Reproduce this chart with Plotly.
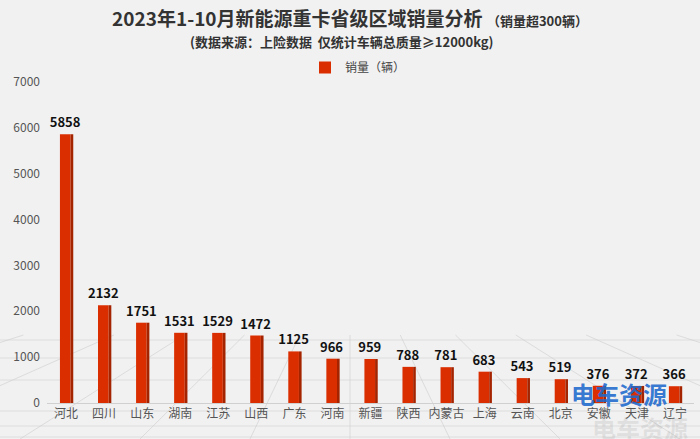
import plotly.graph_objects as go

provinces = ["河北", "四川", "山东", "湖南", "江苏", "山西", "广东", "河南", "新疆",
             "陕西", "内蒙古", "上海", "云南", "北京", "安徽", "天津", "辽宁"]
sales = [5858, 2132, 1751, 1531, 1529, 1472, 1125, 966, 959,
         788, 781, 683, 543, 519, 376, 372, 366]
y_ticks = [0, 1000, 2000, 3000, 4000, 5000, 6000, 7000]

FONT = "Noto Sans CJK SC"
L, R, T, B, W, H = 47, 6, 82, 36, 700, 439
PW, PH = W - L - R, H - T - B


def px(x):
    return (x - L) / PW


def py(y):
    return (H - B - y) / PH


fig = go.Figure()
# front face
fig.add_trace(go.Bar(
    x=provinces, y=sales, name="销量（辆）",
    width=0.28, offset=-0.16,
    marker=dict(color="#da2e00", line=dict(width=0)),
    text=[str(v) for v in sales], textposition="outside", constraintext="none",
    textfont=dict(family=FONT, size=13, color="#111111", weight="bold"),
    cliponaxis=False,
))
# side face (3D look)
fig.add_trace(go.Bar(
    x=provinces, y=sales, showlegend=False, hoverinfo="skip",
    width=0.07, offset=0.12,
    marker=dict(color="#a52400", line=dict(width=0)),
))

# decorative perspective floor grid
shapes = []
vx, vy = 350, 230
for bx in [-300, -120, 20, 140, 250, 350, 450, 560, 680, 820, 1000]:
    t = (439 - 335) / (439 - vy)
    x2 = bx + (vx - bx) * t
    shapes.append(dict(type="line", xref="paper", yref="paper",
                       x0=px(bx), y0=py(439), x1=px(x2), y1=py(335),
                       line=dict(color="rgba(200,200,200,0.5)", width=1), layer="below"))
for hy in [340, 358, 380, 411, 426, 437]:
    shapes.append(dict(type="line", xref="paper", yref="paper",
                       x0=px(0), y0=py(hy), x1=px(700), y1=py(hy),
                       line=dict(color="rgba(205,205,205,0.5)", width=1), layer="below"))

fig.update_layout(
    width=W, height=H,
    barmode="overlay",
    margin=dict(l=L, r=R, t=T, b=B),
    paper_bgcolor="#f1f1f1",
    plot_bgcolor="rgba(0,0,0,0)",
    font=dict(family=FONT, color="#555555", size=12),
    title=dict(
        text="<b>2023年1-10月新能源重卡省级区域销量分析 <span style='font-size:13px'>（销量超300辆）</span></b>",
        x=0.5, xanchor="center", y=0.972, yanchor="top",
        font=dict(family=FONT, size=19, color="#333333"),
    ),
    legend=dict(
        orientation="h", x=px(358), xanchor="center", y=1.0, yanchor="bottom",
        font=dict(family=FONT, size=12, color="#444444"),
        bgcolor="rgba(0,0,0,0)",
    ),
    shapes=shapes,
    annotations=[
        dict(text="<b>(数据来源：上险数据&nbsp;&nbsp;仅统计车辆总质量≥12000kg)</b>",
             xref="paper", yref="paper", x=px(342), y=py(42),
             xanchor="center", yanchor="middle", showarrow=False,
             font=dict(family=FONT, size=13, color="#333333")),
        dict(text="<b>电车资源</b>", xref="paper", yref="paper",
             x=px(619), y=py(393), xanchor="center", yanchor="middle", showarrow=False,
             font=dict(family=FONT, size=24, color="rgba(30,105,205,0.9)")),
        dict(text="<b>电车资源</b>", xref="paper", yref="paper",
             x=px(640), y=py(428), xanchor="center", yanchor="middle", showarrow=False,
             font=dict(family=FONT, size=24, color="rgba(160,160,160,0.22)")),
    ],
)
fig.update_xaxes(
    showline=True, linecolor="#d0d0d0", linewidth=1, ticks="",
    tickfont=dict(family=FONT, size=12, color="#555555"),
    showgrid=False,
)
fig.update_yaxes(
    range=[0, 7000], tickvals=y_ticks, showgrid=False, zeroline=False,
    tickfont=dict(family=FONT, size=12, color="#555555"),
    ticklabelstandoff=6,
)

fig.write_html("out.html", config={"displayModeBar": False},
               post_script="document.body.style.margin='0';")
